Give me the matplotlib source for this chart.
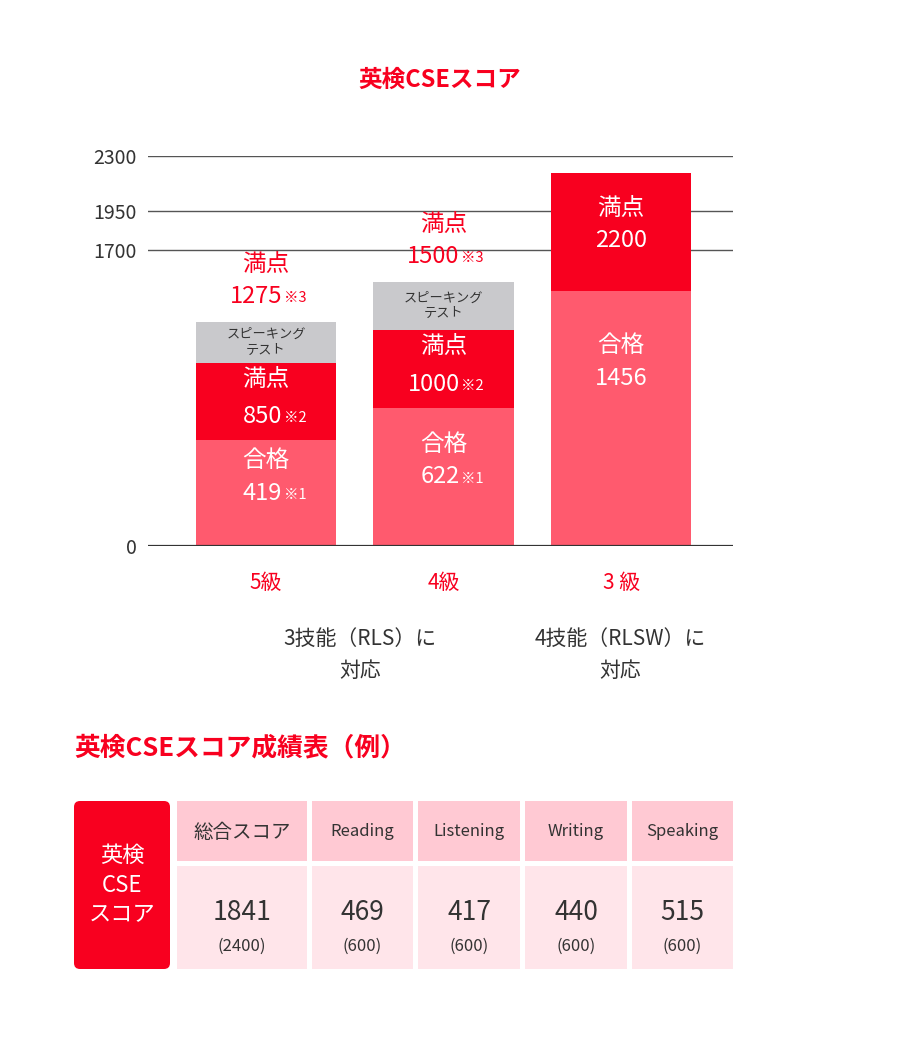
import matplotlib
matplotlib.use("Agg")
import matplotlib.pyplot as plt
from matplotlib.patches import FancyBboxPatch, Rectangle

plt.rcParams["font.family"] = "Noto Sans CJK JP"

grades = ["5級", "4級", "3 級"]
# visual stack tops (axis units) for each segment
pass_top = [625, 814, 1504]
full_top = [1079, 1274, 2200]
speak_top = [1321, 1557, None]
pass_scores = ["419", "622", "1456"]
pass_notes = ["※1", "※1", ""]
full_scores = ["850", "1000", "2200"]
full_notes = ["※2", "※2", ""]
total_scores = ["1275", "1500"]
total_notes = ["※3", "※3"]
tick_pos = [0, 1746, 1976, 2300]
tick_labels = ["0", "1700", "1950", "2300"]

headers = ["総合スコア", "Reading", "Listening", "Writing", "Speaking"]
scores = ["1841", "469", "417", "440", "515"]
maxes = ["(2400)", "(600)", "(600)", "(600)", "(600)"]

PINK = "#FF5A6E"
RED = "#F8001F"
GRAY = "#C9C9CC"
TXT = "#333333"
W, H = 915, 1055

fig = plt.figure(figsize=(W / 100, H / 100), dpi=100)
ax = fig.add_axes([148 / W, (H - 546) / H, (733 - 148) / W, 390 / H])
ax.set_xlim(-0.665, 2.63)
ax.set_ylim(0, 2300)
for s in ax.spines.values():
    s.set_visible(False)
ax.set_xticks([])
ax.set_yticks(tick_pos)
ax.set_yticklabels(tick_labels, fontsize=14, color=TXT)
ax.tick_params(axis="y", length=0, pad=8)
for t in tick_pos[1:]:
    ax.axhline(t, color="#555555", lw=1, zorder=0)
ax.axhline(0, color="#333333", lw=1.6, zorder=3)

x = [0, 1, 2]
bw = 0.79
for i in x:
    ax.bar(i, pass_top[i], width=bw, color=PINK, zorder=2)
    ax.bar(i, full_top[i] - pass_top[i], bottom=pass_top[i], width=bw, color=RED, zorder=2)
    if speak_top[i]:
        ax.bar(i, speak_top[i] - full_top[i], bottom=full_top[i], width=bw, color=GRAY, zorder=2)
        mid = (speak_top[i] + full_top[i]) / 2
        ax.text(i, mid, "スピーキング\nテスト", ha="center", va="center", fontsize=9.5,
                color=TXT, linespacing=1.3)

def num_note(i, y, num, note, color, size):
    off = 0.09 if note else 0
    ax.text(i + off, y, num, ha="right" if note else "center", va="center",
            fontsize=size, color=color)
    if note:
        ax.text(i + off + 0.01, y - 10, note, ha="left", va="center",
                fontsize=size * 0.62, color=color)

for i in x:
    # pass label
    if i < 2:
        pm = pass_top[i] / 2
        ax.text(i, pm + 190, "合格", ha="center", va="center", fontsize=17, color="white")
        num_note(i, pm - 0, pass_scores[i], pass_notes[i], "white", 17)
        fm = (full_top[i] + pass_top[i]) / 2
        ax.text(i, fm + 130, "満点", ha="center", va="center", fontsize=17, color="white")
        num_note(i, fm - 90, full_scores[i], full_notes[i], "white", 17)
        ax.text(i, speak_top[i] + 340, "満点", ha="center", va="center", fontsize=17, color=RED)
        num_note(i, speak_top[i] + 150, total_scores[i], total_notes[i], RED, 17)
    else:
        ax.text(i, 1180, "合格", ha="center", va="center", fontsize=17, color="white")
        ax.text(i, 990, pass_scores[i], ha="center", va="center", fontsize=17, color="white")
        ax.text(i, 1990, "満点", ha="center", va="center", fontsize=17, color="white")
        ax.text(i, 1800, full_scores[i], ha="center", va="center", fontsize=17, color="white")
    ax.text(i, -220, grades[i], ha="center", va="center", fontsize=15, color=RED)

# overlay in pixel coords
ov = fig.add_axes([0, 0, 1, 1])
ov.set_xlim(0, W)
ov.set_ylim(H, 0)
ov.axis("off")
ov.patch.set_alpha(0)

ov.text(440, 80, "英検CSEスコア", ha="center", va="center", fontsize=17,
        color=RED, fontweight="bold")
ov.text(360, 655, "3技能（RLS）に\n対応", ha="center", va="center", fontsize=15,
        color=TXT, linespacing=1.6)
ov.text(620, 655, "4技能（RLSW）に\n対応", ha="center", va="center", fontsize=15,
        color=TXT, linespacing=1.6)
ov.text(74, 748, "英検CSEスコア成績表（例）", ha="left", va="center", fontsize=18.5,
        color=RED, fontweight="bold")

ov.add_patch(FancyBboxPatch((74, 801), 96, 168, boxstyle="round,pad=0,rounding_size=6",
                            color=RED, lw=0))
ov.text(122, 885, "英検\nCSE\nスコア", ha="center", va="center", fontsize=16,
        color="white", linespacing=1.35)

cols = [(177, 307), (312, 413), (418, 520), (525, 627), (632, 733)]
for k, (a, b) in enumerate(cols):
    ov.add_patch(Rectangle((a, 801), b - a, 60, color="#FFC9D3", lw=0))
    ov.add_patch(Rectangle((a, 866), b - a, 103, color="#FFE5EA", lw=0))
    cx = (a + b) / 2
    hs = 14 if k == 0 else 12
    ov.text(cx, 832, headers[k], ha="center", va="center", fontsize=hs, color=TXT,
            fontfamily="Noto Sans CJK JP" if k == 0 else "Roboto Condensed" if False else "Noto Sans CJK JP")
    ov.text(cx, 913, scores[k], ha="center", va="center", fontsize=19, color=TXT)
    ov.text(cx, 946, maxes[k], ha="center", va="center", fontsize=12, color=TXT)

fig.savefig("out.png", dpi=100)
